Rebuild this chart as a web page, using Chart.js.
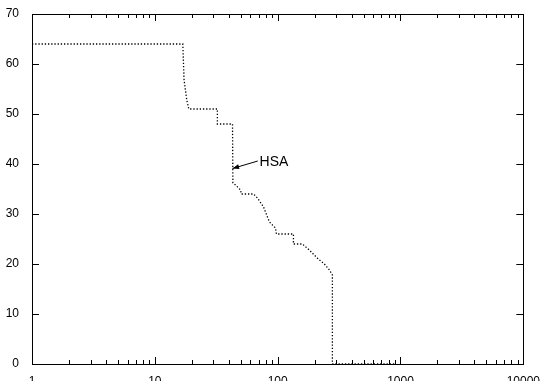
<!DOCTYPE html>
<html>
<head>
<meta charset="utf-8">
<script src="https://cdn.jsdelivr.net/npm/chart.js@4.4.0/dist/chart.umd.min.js"></script>
<style>
  html, body { margin: 0; padding: 0; background: #fff; }
  #wrap { width: 542px; height: 381px; }
</style>
</head>
<body>
<div id="wrap"><canvas id="myChart" width="542" height="381"></canvas></div>
<script>
// step curve (x is log scale)
var curveX = [1, 16.9, 17.3, 18.2, 18.9, 32.3, 32.3, 42.9, 43.2, 45.4, 49.9, 50.5, 63.6, 68.5, 76.7,
  82.6, 85.8, 96, 97.8, 134.4, 134.4, 159, 181, 210, 240, 264, 279, 279, 900];
var curveY = [64, 64, 56.8, 52.8, 51, 51, 48, 48, 36.2, 35.8, 34.8, 34, 34, 33.2, 31.4,
  29.4, 28.4, 27.2, 26, 26, 24, 24, 22.8, 21.2, 20, 18.8, 17.8, 0, 0];

var xTickLabels = [1, 10, 100, 1000, 10000];
var yTickLabels = [0, 10, 20, 30, 40, 50, 60, 70];

// annotation: label and arrow (tail -> tip) in data units
var noteText = 'HSA';
var noteTextPos = [71.2, 40.3];
var noteArrowFrom = [68.9, 40.6];
var noteArrowTo = [42.9, 39.1];

var points = [];
for (var i = 0; i < curveX.length; i++) {
  points.push({x: curveX[i], y: curveY[i]});
}

/* draws inward ticks on all four sides, plus the frame */
var frameTicks = {
  id: 'frameTicks',
  afterDraw: function(chart) {
    var ctx = chart.ctx;
    var a = chart.chartArea;
    var xs = chart.scales.x;
    var ys = chart.scales.y;
    ctx.save();
    ctx.strokeStyle = '#000';
    ctx.lineWidth = 1;
    ctx.beginPath();
    // x ticks, log minors
    for (var d = 1; d < 10000; d *= 10) {
      for (var m = 1; m < 10; m++) {
        var v = d * m;
        var px = Math.round(xs.getPixelForValue(v)) + 0.5;
        var len = m === 1 ? 7 : 4;
        ctx.moveTo(px, a.bottom); ctx.lineTo(px, a.bottom - len);
        ctx.moveTo(px, a.top); ctx.lineTo(px, a.top + len);
      }
    }
    yTickLabels.forEach(function(v) {
      var py = Math.round(ys.getPixelForValue(v)) + 0.5;
      ctx.moveTo(a.left, py); ctx.lineTo(a.left + 7, py);
      ctx.moveTo(a.right, py); ctx.lineTo(a.right - 7, py);
    });
    ctx.stroke();
    ctx.strokeRect(Math.round(a.left) + 0.5, Math.round(a.top) + 0.5,
      Math.round(a.right - a.left), Math.round(a.bottom - a.top));

    // annotation
    var x0 = xs.getPixelForValue(noteArrowFrom[0]), y0 = ys.getPixelForValue(noteArrowFrom[1]);
    var x1 = xs.getPixelForValue(noteArrowTo[0]), y1 = ys.getPixelForValue(noteArrowTo[1]);
    ctx.beginPath();
    ctx.moveTo(x0, y0); ctx.lineTo(x1, y1);
    ctx.stroke();
    var ang = Math.atan2(y1 - y0, x1 - x0);
    ctx.beginPath();
    ctx.moveTo(x1, y1);
    ctx.lineTo(x1 - 7 * Math.cos(ang - 0.35), y1 - 7 * Math.sin(ang - 0.35));
    ctx.lineTo(x1 - 7 * Math.cos(ang + 0.35), y1 - 7 * Math.sin(ang + 0.35));
    ctx.closePath();
    ctx.fillStyle = '#000';
    ctx.fill();
    ctx.font = '14px "Liberation Sans", Arial, sans-serif';
    ctx.textBaseline = 'middle';
    ctx.textAlign = 'left';
    ctx.fillText(noteText, xs.getPixelForValue(noteTextPos[0]), ys.getPixelForValue(noteTextPos[1]));
    ctx.restore();
  }
};

var config = {
  type: 'line',
  data: {
    datasets: [{
      data: points,
      borderColor: '#000',
      borderWidth: 1.3,
      borderDash: [1.3, 1.9],
      pointRadius: 0,
      fill: false,
      tension: 0
    }]
  },
  options: {
    responsive: false,
    animation: false,
    layout: { padding: { top: 14, right: 17, left: 0, bottom: 0 } },
    plugins: { legend: { display: false }, tooltip: { enabled: false } },
    scales: {
      x: {
        type: 'logarithmic',
        min: 1,
        max: 10000,
        grid: { display: false },
        border: { display: false },
        afterFit: function(scale) { scale.height = 17; },
        afterBuildTicks: function(scale) {
          scale.ticks = xTickLabels.map(function(v) { return {value: v}; });
        },
        ticks: {
          autoSkip: false,
          maxRotation: 0,
          padding: 2,
          color: '#000',
          font: { family: '"Liberation Sans", Arial, sans-serif', size: 12 },
          callback: function(v) { return String(v); }
        }
      },
      y: {
        min: 0,
        max: 70,
        grid: { display: false },
        border: { display: false },
        afterFit: function(scale) { scale.width = 32; },
        afterBuildTicks: function(scale) {
          scale.ticks = yTickLabels.map(function(v) { return {value: v}; });
        },
        ticks: {
          padding: 5,
          color: '#000',
          font: { family: '"Liberation Sans", Arial, sans-serif', size: 12 }
        }
      }
    }
  },
  plugins: [frameTicks]
};

window.onload = function() {
  var ctx = document.getElementById('myChart').getContext('2d');
  window.stepChart = new Chart(ctx, config);
};
</script>
</body>
</html>
